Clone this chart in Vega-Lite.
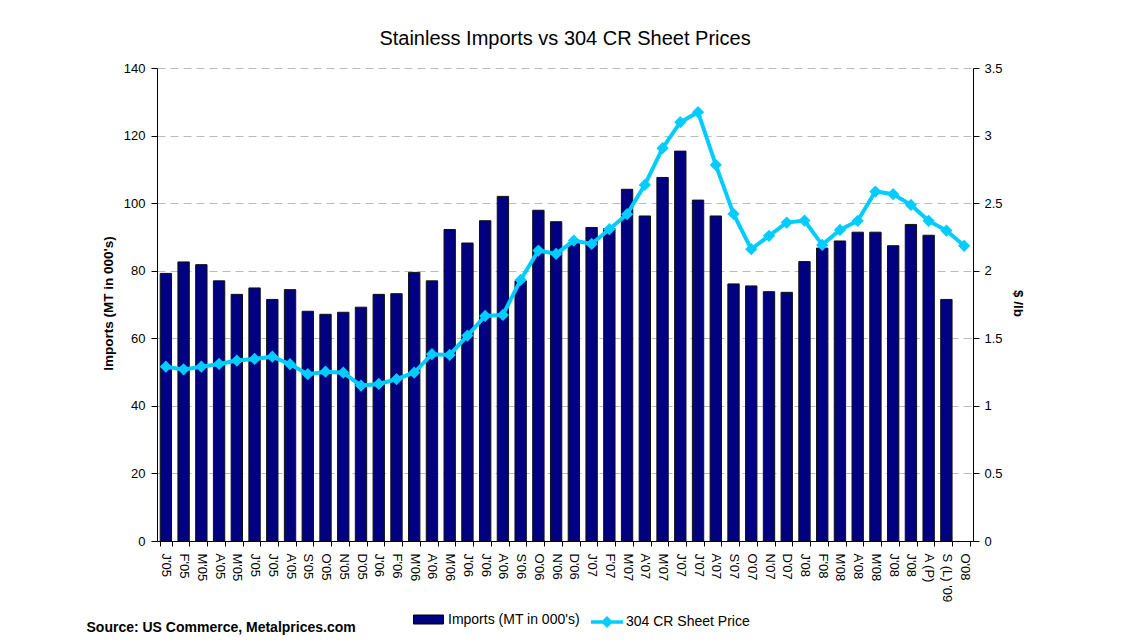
{
  "$schema": "https://vega.github.io/schema/vega-lite/v6.json",
  "autosize": {"type": "none"},
  "padding": {"left": 157, "top": 68, "right": 150, "bottom": 102},
  "width": 816,
  "height": 473,
  "background": "white",
  "title": {
    "text": "Stainless Imports vs 304 CR Sheet Prices",
    "font": "Liberation Sans",
    "fontSize": 20,
    "fontWeight": "normal",
    "color": "black",
    "anchor": "middle",
    "offset": 13
  },
  "config": {
    "view": {"stroke": null},
    "axis": {
      "labelFont": "Liberation Sans",
      "labelFontSize": 13,
      "labelColor": "black",
      "titleFont": "Liberation Sans",
      "titleFontSize": 13.5,
      "titleFontWeight": "bold",
      "titleColor": "black",
      "domainColor": "black",
      "tickColor": "black"
    },
    "legend": {
      "labelFont": "Liberation Sans",
      "labelFontSize": 14,
      "labelColor": "black"
    }
  },
  "data": {
    "values": [
      {"m": "J'05", "imp": 79.2, "price": 1.29},
      {"m": "F'05", "imp": 82.6, "price": 1.27},
      {"m": "M'05", "imp": 81.8, "price": 1.29},
      {"m": "A'05", "imp": 77.0, "price": 1.31},
      {"m": "M'05 ", "imp": 73.0, "price": 1.335},
      {"m": "J'05 ", "imp": 74.9, "price": 1.347},
      {"m": "J'05  ", "imp": 71.5, "price": 1.364},
      {"m": "A'05 ", "imp": 74.4, "price": 1.308},
      {"m": "S'05", "imp": 68.0, "price": 1.234},
      {"m": "O'05", "imp": 67.1, "price": 1.253},
      {"m": "N'05", "imp": 67.7, "price": 1.245},
      {"m": "D'05", "imp": 69.2, "price": 1.15},
      {"m": "J'06", "imp": 73.0, "price": 1.162},
      {"m": "F'06", "imp": 73.2, "price": 1.197},
      {"m": "M'06", "imp": 79.5, "price": 1.246},
      {"m": "A'06", "imp": 77.0, "price": 1.382},
      {"m": "M'06 ", "imp": 92.2, "price": 1.377},
      {"m": "J'06 ", "imp": 88.2, "price": 1.52},
      {"m": "J'06  ", "imp": 94.8, "price": 1.665},
      {"m": "A'06 ", "imp": 102.0, "price": 1.673},
      {"m": "S'06", "imp": 77.0, "price": 1.932},
      {"m": "O'06", "imp": 97.9, "price": 2.149},
      {"m": "N'06", "imp": 94.5, "price": 2.124},
      {"m": "D'06", "imp": 88.3, "price": 2.223},
      {"m": "J'07", "imp": 92.8, "price": 2.198},
      {"m": "F'07", "imp": 92.5, "price": 2.307},
      {"m": "M'07", "imp": 104.1, "price": 2.418},
      {"m": "A'07", "imp": 96.2, "price": 2.635},
      {"m": "M'07 ", "imp": 107.6, "price": 2.907},
      {"m": "J'07 ", "imp": 115.4, "price": 3.099},
      {"m": "J'07  ", "imp": 100.9, "price": 3.173},
      {"m": "A'07 ", "imp": 96.2, "price": 2.783},
      {"m": "S'07", "imp": 76.1, "price": 2.42},
      {"m": "O'07", "imp": 75.5, "price": 2.159},
      {"m": "N'07", "imp": 73.8, "price": 2.258},
      {"m": "D'07", "imp": 73.6, "price": 2.356},
      {"m": "J'08", "imp": 82.7, "price": 2.371},
      {"m": "F'08", "imp": 86.7, "price": 2.191},
      {"m": "M'08", "imp": 88.8, "price": 2.302},
      {"m": "A'08", "imp": 91.4, "price": 2.369},
      {"m": "M'08 ", "imp": 91.4, "price": 2.586},
      {"m": "J'08 ", "imp": 87.4, "price": 2.566},
      {"m": "J'08  ", "imp": 93.7, "price": 2.487},
      {"m": "A (P)", "imp": 90.5, "price": 2.369},
      {"m": "S (L) '09", "imp": 71.5, "price": 2.297},
      {"m": "O'08", "imp": null, "price": 2.184}
    ]
  },
  "encoding": {
    "x": {
      "field": "m",
      "type": "nominal",
      "sort": null,
      "scale": {"paddingInner": 0.36, "paddingOuter": 0.18},
      "axis": {
        "title": "Source: US Commerce, Metalprices.com",
        "titleFontSize": 14,
        "titleAnchor": "start",
        "titleAlign": "left",
        "titleBaseline": "middle",
        "titleX": -71,
        "titleY": 86,
        "labelAngle": 90,
        "labelAlign": "left",
        "labelBaseline": "middle",
        "labelPadding": 7,
        "labelOverlap": false,
        "labelBound": false,
        "tickBand": "extent",
        "tickSize": 5,
        "grid": false
      }
    }
  },
  "layer": [
    {
      "mark": {"type": "bar", "stroke": "#111111", "strokeWidth": 1},
      "encoding": {
        "y": {
          "field": "imp",
          "type": "quantitative",
          "scale": {"domain": [0, 140], "nice": false},
          "axis": {
            "title": "Imports (MT in 000's)",
            "values": [0, 20, 40, 60, 80, 100, 120, 140],
            "grid": true,
            "gridDash": [8, 5],
            "gridColor": "#BBBBBB",
            "tickSize": 6,
            "labelPadding": 6,
            "titleAngle": 270,
            "titleAlign": "center",
            "titleBaseline": "middle",
            "titleX": -49,
            "titleY": 235
          }
        },
        "fill": {
          "datum": "Imports (MT in 000's)",
          "type": "nominal",
          "scale": {"range": ["#000080"]},
          "legend": {
            "title": null,
            "orient": "none",
            "legendX": 256,
            "legendY": 536,
            "padding": 0,
            "symbolType": "M-1,-0.3H1V0.3H-1Z",
            "symbolSize": 900,
            "symbolStrokeColor": "black",
            "symbolStrokeWidth": 1,
            "labelOffset": 4
          }
        }
      }
    },
    {
      "encoding": {
        "y": {
          "field": "price",
          "type": "quantitative",
          "scale": {"domain": [0, 3.5], "nice": false},
          "axis": {
            "orient": "right",
            "title": "$ /lb",
            "values": [0, 0.5, 1, 1.5, 2, 2.5, 3, 3.5],
            "format": "~g",
            "grid": false,
            "tickSize": 6,
            "labelPadding": 5,
            "titleAngle": 90,
            "titleAlign": "center",
            "titleBaseline": "middle",
            "titleX": 44,
            "titleY": 235
          }
        }
      },
      "layer": [
        {
          "mark": {"type": "line", "strokeWidth": 4},
          "encoding": {
            "stroke": {
              "datum": "304 CR Sheet Price",
              "type": "nominal",
              "scale": {"range": ["#00CCFF"]},
              "legend": {
                "title": null,
                "orient": "none",
                "legendX": 432,
                "legendY": 536,
                "padding": 0,
                "symbolType": "M-1,0H1M-0.22,0L0,-0.22L0.22,0L0,0.22Z",
                "symbolSize": 1024,
                "symbolStrokeWidth": 3.5,
                "symbolFillColor": "#00CCFF",
                "labelOffset": 1,
                "encode": {"symbols": {"update": {"fill": {"value": "#00CCFF"}, "stroke": {"value": "#00CCFF"}}}}
              }
            }
          }
        },
        {
          "mark": {"type": "point", "shape": "diamond", "filled": true, "color": "#00CCFF", "size": 150, "opacity": 1}
        }
      ]
    }
  ],
  "resolve": {"scale": {"y": "independent"}}
}
